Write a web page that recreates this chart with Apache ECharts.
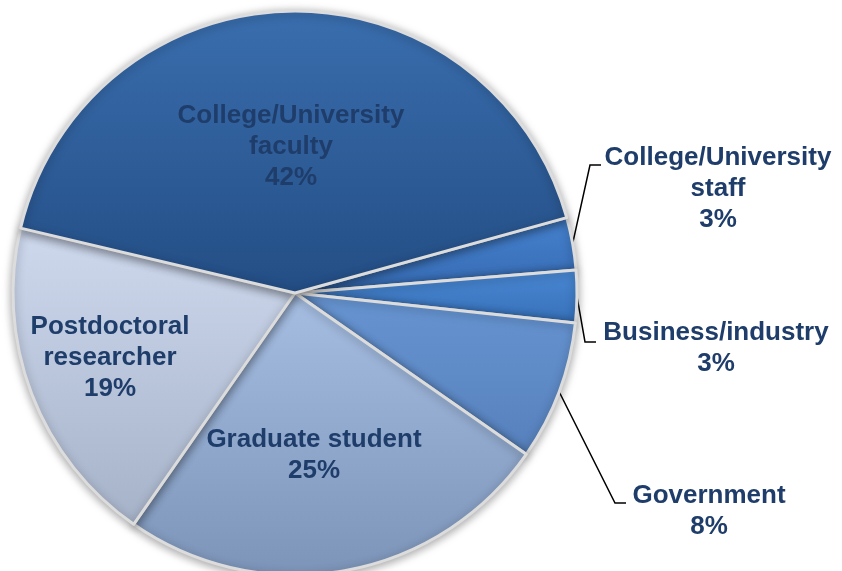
<!DOCTYPE html>
<html>
<head>
<meta charset="utf-8">
<script src="https://cdn.jsdelivr.net/npm/echarts@6/dist/echarts.min.js"></script>
<style>
  html, body { margin: 0; padding: 0; background: #ffffff; }
  #chart { width: 842px; height: 571px; }
</style>
</head>
<body>
<div id="chart"></div>
<script>
// Employment sector shares, listed clockwise from the small right-hand slices
const categories = [
  'College/University\nstaff',
  'Business/industry',
  'Government',
  'Graduate student',
  'Postdoctoral\nresearcher',
  'College/University\nfaculty'
];
const shares = [3, 3, 8, 25, 19, 42];

// Slice fills: [top colour, bottom colour]
const sliceFills = [
  ['#4682cf', '#3569b0'],
  ['#4a88d4', '#3670b8'],
  ['#6795d2', '#5680bb'],
  ['#a6bee2', '#7c94b8'],
  ['#ced9ee', '#a6b2c8'],
  ['#3a6eae', '#234d84']
];

// Label anchor points (text block centre) and leader elbows for outside labels
const labelAnchor = [[718, 189], [716, 348], [709, 511], [314, 455], [110, 358], [291, 147]];
const leaderElbow = [[590, 165], [585, 342], [615, 503], null, null, null];
const insideLabel = [false, false, false, true, true, true];

const textColor = '#1f3d6a';

const chart = echarts.init(document.getElementById('chart'), null, { renderer: 'canvas' });

const pieData = categories.map((name, i) => ({
  name: name,
  value: shares[i],
  itemStyle: {
    color: new echarts.graphic.LinearGradient(0, 0, 0, 1, [
      { offset: 0, color: sliceFills[i][0] },
      { offset: 1, color: sliceFills[i][1] }
    ])
  },
  label: { position: insideLabel[i] ? 'inside' : 'outside' },
  labelLine: { show: !insideLabel[i] }
}));

chart.setOption({
  animation: false,
  series: [{
    type: 'pie',
    center: [295, 293],
    radius: 282,
    startAngle: 15.5,
    clockwise: true,
    avoidLabelOverlap: false,
    data: pieData,
    itemStyle: {
      borderColor: '#dcdcdc',
      borderWidth: 3,
      shadowBlur: 10,
      shadowColor: 'rgba(0,0,0,0.35)',
      shadowOffsetY: 2
    },
    label: {
      formatter: p => p.name + '\n' + p.value + '%',
      color: textColor,
      fontFamily: 'Liberation Sans, Arial, sans-serif',
      fontWeight: 'bold',
      fontSize: 26,
      lineHeight: 31,
      align: 'center'
    },
    labelLine: {
      lineStyle: { color: '#000000', width: 1.5 }
    },
    labelLayout: function (params) {
      const i = params.dataIndex;
      const out = {
        x: labelAnchor[i][0],
        y: labelAnchor[i][1],
        align: 'center',
        verticalAlign: 'middle'
      };
      const elbow = leaderElbow[i];
      if (elbow) {
        const lay = chart.getModel().getSeriesByIndex(0).getData().getItemLayout(i);
        const mid = (lay.startAngle + lay.endAngle) / 2;
        const edge = [lay.cx + lay.r * Math.cos(mid), lay.cy + lay.r * Math.sin(mid)];
        out.labelLinePoints = [edge, elbow, [elbow[0] + 11, elbow[1]]];
      }
      return out;
    }
  }]
});
</script>
</body>
</html>
